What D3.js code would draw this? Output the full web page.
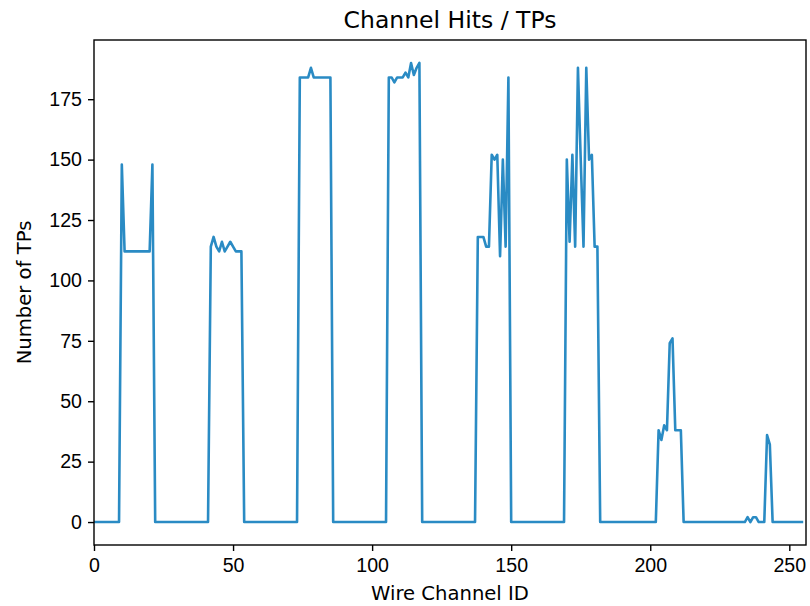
<!DOCTYPE html>
<html>
<head>
<meta charset="utf-8">
<script src="https://cdn.jsdelivr.net/npm/d3@7"></script>
<style>
  html, body { margin: 0; padding: 0; background: #fff; }
  svg { display: block; font-family: "DejaVu Sans", sans-serif; }
  .axis text { font-size: 19.6px; fill: #000; }
  .axis line, .axis path { stroke: #000; stroke-width: 1.4px; }
  .chart-title { font-size: 23.5px; }
  .axis-label { font-size: 19.6px; }
</style>
</head>
<body>
<div id="chart"></div>
<script>
const TITLE = "Channel Hits / TPs";
const X_LABEL = "Wire Channel ID";
const Y_LABEL = "Number of TPs";
const X_TICKS = [0, 50, 100, 150, 200, 250];
const Y_TICKS = [0, 25, 50, 75, 100, 125, 150, 175];

// non-zero channels; every other channel in 0..255 is 0
const HIT_CHANNELS = [
  10, 11, 12, 13, 14, 15, 16, 17, 18, 19, 20, 21,
  42, 43, 44, 45, 46, 47, 48, 49, 50, 51, 52, 53,
  74, 75, 76, 77, 78, 79, 80, 81, 82, 83, 84, 85,
  106, 107, 108, 109, 110, 111, 112, 113, 114, 115, 116, 117,
  138, 139, 140, 141, 142, 143, 144, 145, 146, 147, 148, 149,
  170, 171, 172, 173, 174, 175, 176, 177, 178, 179, 180, 181,
  203, 204, 205, 206, 207, 208, 209, 210, 211,
  235, 237, 238, 242, 243
];
const HIT_COUNTS = [
  148, 112, 112, 112, 112, 112, 112, 112, 112, 112, 112, 148,
  114, 118, 114, 112, 116, 112, 114, 116, 114, 112, 112, 112,
  184, 184, 184, 184, 188, 184, 184, 184, 184, 184, 184, 184,
  184, 184, 182, 184, 184, 184, 186, 184, 190, 185, 188, 190,
  118, 118, 118, 114, 114, 152, 150, 152, 110, 150, 114, 184,
  150, 116, 152, 114, 188, 150, 114, 188, 150, 152, 114, 114,
  38, 34, 40, 38, 74, 76, 38, 38, 38,
  2, 2, 2, 36, 32
];
const N_CHANNELS = 256;

const counts = new Array(N_CHANNELS).fill(0);
HIT_CHANNELS.forEach((ch, i) => { counts[ch] = HIT_COUNTS[i]; });
const series = counts.map((v, i) => ({ ch: i, v }));

const width = 810, height = 606;
const margin = { top: 40, right: 4, bottom: 61, left: 94 };
const innerW = width - margin.left - margin.right;
const innerH = height - margin.top - margin.bottom;

const x = d3.scaleLinear().domain([0, 256]).range([0, innerW]);
const y = d3.scaleLinear().domain([-9.5, 199.5]).range([innerH, 0]);

const svg = d3.select("#chart").append("svg")
  .attr("width", width).attr("height", height);

const g = svg.append("g").attr("transform", `translate(${margin.left},${margin.top})`);

g.append("defs").append("clipPath").attr("id", "clip")
  .append("rect").attr("width", innerW).attr("height", innerH);

g.append("path")
  .datum(series)
  .attr("clip-path", "url(#clip)")
  .attr("fill", "none")
  .attr("stroke", "#2a8bc4")
  .attr("stroke-width", 2.6)
  .attr("stroke-linejoin", "round")
  .attr("d", d3.line().x((d) => x(d.ch)).y((d) => y(d.v)));

const xAxis = g.append("g").attr("class", "axis")
  .attr("transform", `translate(0,${innerH})`)
  .call(d3.axisBottom(x).tickValues(X_TICKS).tickSize(6).tickPadding(7).tickSizeOuter(0));
xAxis.select(".domain").remove();

const yAxis = g.append("g").attr("class", "axis")
  .call(d3.axisLeft(y).tickValues(Y_TICKS).tickSize(6).tickPadding(6).tickSizeOuter(0));
yAxis.select(".domain").remove();

g.append("rect")
  .attr("width", innerW).attr("height", innerH)
  .attr("fill", "none").attr("stroke", "#000").attr("stroke-width", 1.4);

svg.append("text").attr("class", "chart-title")
  .attr("x", margin.left + innerW / 2).attr("y", 28)
  .attr("text-anchor", "middle").text(TITLE);

svg.append("text").attr("class", "axis-label")
  .attr("x", margin.left + innerW / 2).attr("y", 600)
  .attr("text-anchor", "middle").text(X_LABEL);

svg.append("text").attr("class", "axis-label")
  .attr("transform", `translate(31,${margin.top + innerH / 2}) rotate(-90)`)
  .attr("text-anchor", "middle").text(Y_LABEL);
</script>
</body>
</html>
